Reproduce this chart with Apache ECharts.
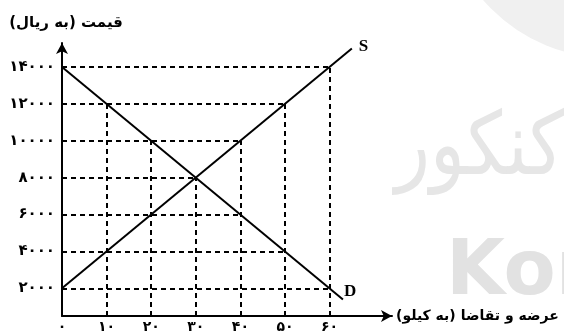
<!DOCTYPE html>
<html>
<head>
<meta charset="utf-8">
<script src="https://cdn.jsdelivr.net/npm/echarts@6/dist/echarts.min.js"></script>
<style>
  html, body { margin: 0; padding: 0; background: #fff; }
  #main { width: 564px; height: 332px; }
</style>
</head>
<body>
<div id="main"></div>
<script>
const supply = [[0, 2000], [65, 15000]]
const demand = [[0, 14000], [63, 1400]]
const guidePoints = [
    [10, 12000], [20, 10000], [30, 8000], [40, 10000], [40, 6000],
    [50, 12000], [50, 4000], [60, 14000], [60, 2000],
]
const xTicks = [0, 10, 20, 30, 40, 50, 60]
const yTicks = [2000, 4000, 6000, 8000, 10000, 12000, 14000]

const Y_MIN = 500
const FA = 'DejaVu Sans'

const toFa = n => String(n).replace(/\d/g, d => '۰۱۲۳۴۵۶۷۸۹'[d])

const guides = []
guidePoints.forEach(p => {
    guides.push({ coords: [[0, p[1]], p] })
    guides.push({ coords: [[p[0], Y_MIN], p] })
})

const chart = echarts.init(document.getElementById('main'))
chart.setOption({
    animation: false,
    grid: { left: 62, top: 43, right: 172, bottom: 16, outerBoundsMode: 'none', containLabel: false },
    graphic: [
        { type: 'circle', z: -10, shape: { cx: 610, cy: -110, r: 168 }, style: { fill: '#f0f0f0' } },
        { type: 'text', z: -10, x: 395, y: 108, scaleX: 0.93, scaleY: 1.12, style: { text: 'کنکور', fill: '#e6e6e6', font: '78px ' + FA } },
        { type: 'text', z: -10, x: 446, y: 236, style: { text: 'Kon', fill: '#e2e2e2', font: 'bold 76px ' + FA } },
    ],
    xAxis: {
        type: 'value',
        min: 0,
        max: 74,
        name: 'عرضه و تقاضا (به کیلو)',
        nameLocation: 'end',
        nameGap: 4,
        nameTextStyle: { color: '#000', fontFamily: FA, fontWeight: 'bold', fontSize: 14 },
        splitLine: { show: false },
        axisLine: { lineStyle: { color: '#000', width: 2 }, symbol: ['none', 'arrow'], symbolSize: [9, 11] },
        axisTick: { show: false },
        axisLabel: {
            customValues: xTicks,
            formatter: v => toFa(v),
            color: '#000',
            fontFamily: FA,
            fontWeight: 'bold',
            fontSize: 14,
            margin: 4,
        },
    },
    yAxis: {
        type: 'value',
        min: Y_MIN,
        max: 15300,
        name: 'قیمت (به ریال)',
        nameLocation: 'end',
        nameGap: 12,
        nameTextStyle: { color: '#000', fontFamily: FA, fontWeight: 'bold', fontSize: 15, padding: [0, 0, 0, 8] },
        splitLine: { show: false },
        axisLine: { lineStyle: { color: '#000', width: 2 }, symbol: ['none', 'arrow'], symbolSize: [9, 11] },
        axisTick: { show: false },
        axisLabel: {
            customValues: yTicks,
            formatter: v => toFa(v),
            color: '#000',
            fontFamily: FA,
            fontWeight: 'bold',
            fontSize: 15,
            margin: 7,
        },
    },
    series: [
        {
            type: 'lines',
            coordinateSystem: 'cartesian2d',
            silent: true,
            lineStyle: { color: '#000', width: 2, type: [5, 4], opacity: 1 },
            data: guides,
            z: 1,
        },
        {
            name: 'S',
            type: 'line',
            data: supply,
            symbol: 'none',
            lineStyle: { color: '#000', width: 2 },
            endLabel: {
                show: true,
                formatter: '{a}',
                color: '#000',
                fontFamily: 'Liberation Serif',
                fontWeight: 'bold',
                fontSize: 17,
                offset: [-1, -2],
            },
            z: 3,
        },
        {
            name: 'D',
            type: 'line',
            data: demand,
            symbol: 'none',
            lineStyle: { color: '#000', width: 2 },
            endLabel: {
                show: true,
                formatter: '{a}',
                color: '#000',
                fontFamily: 'Liberation Serif',
                fontWeight: 'bold',
                fontSize: 17,
                offset: [-7, -8],
            },
            z: 3,
        },
    ],
})
</script>
</body>
</html>
